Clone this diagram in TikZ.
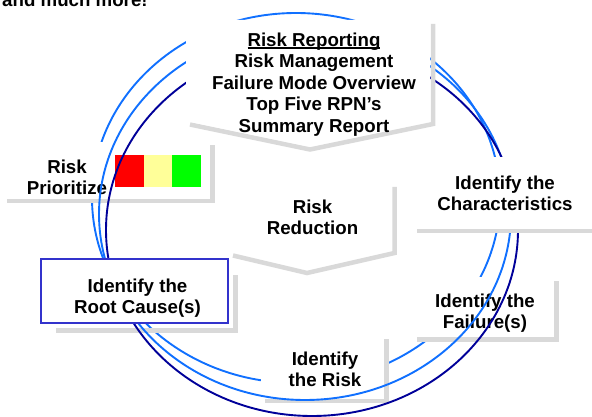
\documentclass[tikz,border=0pt]{standalone}
\usepackage{fontspec}
\setmainfont{Liberation Sans}
\definecolor{ringlight}{RGB}{16,112,255}
\definecolor{ringdark}{RGB}{0,0,153}
\definecolor{shadowgray}{RGB}{217,217,217}
\definecolor{rootblue}{RGB}{51,51,204}
\definecolor{cellred}{RGB}{255,0,0}
\definecolor{cellyellow}{RGB}{255,255,153}
\definecolor{cellgreen}{RGB}{0,255,0}
\newcommand{\baseul}[1]{\setbox0=\hbox{#1}\rlap{\rule[-2.4pt]{\wd0}{1.4pt}}\box0}

\begin{document}
\begin{tikzpicture}[x=1pt,y=-1pt,
  lbl/.style={font=\fontsize{18.7}{21.5}\selectfont\bfseries, align=center, inner sep=0pt, anchor=north},
  shade/.style={draw=shadowgray, line width=4.5pt},
  ring/.style={line width=1.9pt}]
\useasboundingbox (0,0) rectangle (592,417);
\clip (0,0) rectangle (592,417);

% line cut off at the top
\node[lbl, anchor=base west] (more) at (2,6.5) {and much more!};

% inner ring, hidden by the small boxes
\draw[ring, ringlight] (296,198) ellipse [x radius=204pt, y radius=185pt];

% boxes under the other two rings
\draw[shade] (7,201) -| (212.5,145);
\fill[white] (3,142) rectangle (210,199);
\fill[cellred] (115,155) rectangle (144,187);
\fill[cellyellow] (144,155) rectangle (172,187);
\fill[cellgreen] (172,155) rectangle (201,187);
\node[lbl] (prioritize) at (67,159.6) {Risk\\Prioritize};

\draw[shade] (417,339.5) -| (556.5,281);
\fill[white] (413,277) rectangle (554,337);
\node[lbl] (failure) at (485,293.6) {Identify the\\Failure(s)};

\draw[shade] (265,401) -| (386.5,339);
\fill[white] (261,336) rectangle (384,399);
\node[lbl] (risk) at (325,351.6) {Identify\\the Risk};

\draw[shade] (56,330.5) -| (235.5,275);

\draw[shade] (233,255.5) -- (307,273) -- (394.5,253) -- (394.5,187);
\node[lbl] (reduction) at (312.5,199.6) {Risk\\Reduction};

% outer rings
\draw[ring, ringlight] (305,214) ellipse [x radius=206pt, y radius=186pt];
\draw[ring, ringdark] (312,230) ellipse [x radius=206pt, y radius=186pt];

% boxes over all rings
\draw[shade] (190,124.5) -- (310,149.5) -- (433,124) -- (433,24);
\fill[white] (186,20) -- (430,20) -- (430,121) -- (307,146) -- (186,121) -- cycle;
\node[lbl] (reporting) at (314,32.6) {\baseul{Risk Reporting}\\Risk Management\\Failure Mode Overview\\Top Five RPN’s\\Summary Report};

\draw[shade] (417,231) -- (600,231);
\fill[white] (413,157) rectangle (600,229);
\node[lbl] (characteristics) at (505,175.6) {Identify the\\Characteristics};

\draw[rootblue, line width=1.3pt, fill=white] (41,259) rectangle (228,323);
\node[lbl] (rootcause) at (137.5,278.6) {Identify the\\Root Cause(s)};
\end{tikzpicture}
\end{document}
